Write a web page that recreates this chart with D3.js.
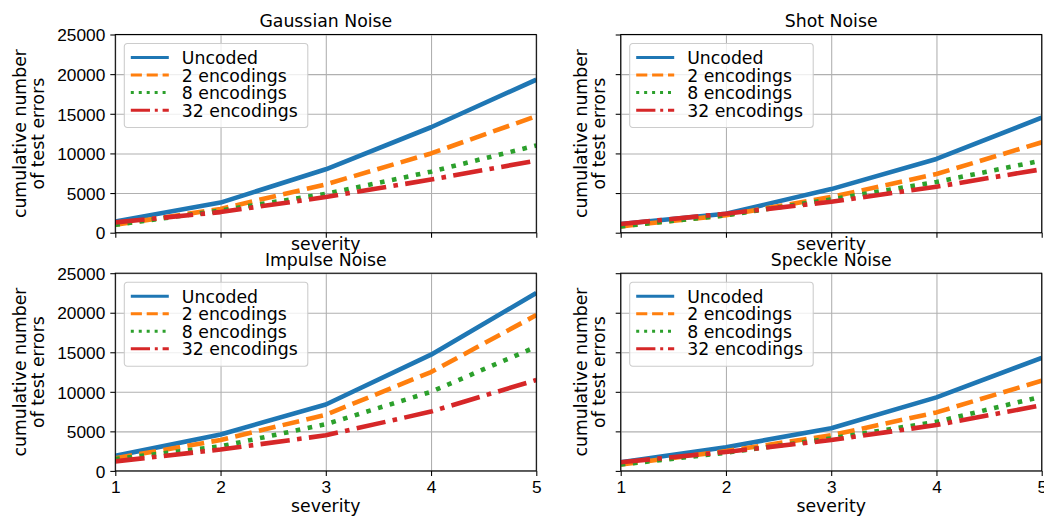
<!DOCTYPE html>
<html>
<head>
<meta charset="utf-8">
<script src="https://cdn.jsdelivr.net/npm/d3@7"></script>
<style>
  body { margin: 0; background: #fff; }
  svg { display: block; font-family: "DejaVu Sans", sans-serif; }
</style>
</head>
<body>
<div id="chart"></div>
<script>
const severities = [1, 2, 3, 4, 5];
const seriesNames = ["Uncoded", "2 encodings", "8 encodings", "32 encodings"];
const panelTitles = ["Gaussian Noise", "Shot Noise", "Impulse Noise", "Speckle Noise"];
const yTicks = [0, 5000, 10000, 15000, 20000, 25000];

// one row per series: Uncoded, 2, 8, 32 encodings
const gaussianNoise = [
  [1400, 3800, 8000, 13300, 19300],
  [1000, 3000, 6100, 10000, 14700],
  [1000, 2800, 4900, 7700, 11000],
  [1300, 2600, 4500, 6700, 9100]
];
const shotNoise = [
  [1100, 2400, 5500, 9300, 14500],
  [800, 2200, 4500, 7400, 11400],
  [800, 2200, 4200, 6400, 9100],
  [1100, 2400, 3900, 5800, 8000]
];
const impulseNoise = [
  [1900, 4600, 8400, 14700, 22500],
  [1600, 3900, 7100, 12500, 19700],
  [1500, 3100, 5900, 10000, 15700],
  [1200, 2700, 4500, 7500, 11500]
];
const speckleNoise = [
  [1100, 3000, 5400, 9300, 14300],
  [800, 2500, 4500, 7400, 11400],
  [800, 2300, 4100, 6200, 9400],
  [1100, 2400, 3900, 5800, 8300]
];
const panelData = [gaussianNoise, shotNoise, impulseNoise, speckleNoise];

const colors = ["#1f77b4", "#ff7f0e", "#2ca02c", "#d62728"];
const lw = 4.6;
const dashFor = (w) => [
  null,
  [3.7 * w, 1.6 * w].join(","),
  [1 * w, 1.65 * w].join(","),
  [6.4 * w, 1.6 * w, 1 * w, 1.6 * w].join(",")
];

const width = 1044, height = 519;
const fs = 17.3;

const svg = d3.select("#chart")
  .append("svg")
  .attr("width", width)
  .attr("height", height);

// Panel geometry (left, right, top, bottom)
const cols = [[115.3, 536.3], [620.7, 1041.7]];
const rows = [[34.5, 232.7], [273.2, 470.9]];

panelData.forEach((series, p) => {
  const r = Math.floor(p / 2), c = p % 2;
  const [x0, x1] = cols[c];
  const [y0, y1] = rows[r];

  const x = d3.scaleLinear().domain([1, 5]).range([x0, x1]);
  const y = d3.scaleLinear().domain([0, 25000]).range([y1, y0]);

  const g = svg.append("g");

  // clip
  const clipId = "clip" + p;
  svg.append("clipPath").attr("id", clipId)
    .append("rect")
    .attr("x", x0).attr("y", y0)
    .attr("width", x1 - x0).attr("height", y1 - y0);

  // Grid lines
  g.append("g")
    .attr("transform", `translate(0,${y1})`)
    .call(d3.axisBottom(x).tickValues(severities).tickSize(-(y1 - y0)).tickFormat(""))
    .call((a) => a.select(".domain").remove())
    .selectAll("line")
    .attr("stroke", "#b0b0b0")
    .attr("stroke-width", 1.07);

  g.append("g")
    .attr("transform", `translate(${x0},0)`)
    .call(d3.axisLeft(y).tickValues(yTicks).tickSize(-(x1 - x0)).tickFormat(""))
    .call((a) => a.select(".domain").remove())
    .selectAll("line")
    .attr("stroke", "#b0b0b0")
    .attr("stroke-width", 1.07);

  // Lines
  const line = d3.line()
    .x((d, i) => x(severities[i]))
    .y((d) => y(d));
  const dashes = dashFor(lw);

  g.append("g")
    .attr("clip-path", `url(#${clipId})`)
    .selectAll("path")
    .data(series)
    .enter()
    .append("path")
    .attr("d", line)
    .attr("fill", "none")
    .attr("stroke", (d, i) => colors[i])
    .attr("stroke-width", lw)
    .attr("stroke-dasharray", (d, i) => dashes[i])
    .attr("stroke-linejoin", "round")
    .attr("stroke-linecap", "butt");

  // Axes
  const xAxis = g.append("g")
    .attr("transform", `translate(0,${y1})`)
    .call(d3.axisBottom(x).tickValues(severities).tickSize(5).tickPadding(5)
      .tickFormat(r === 1 ? d3.format("d") : ""));
  const yAxis = g.append("g")
    .attr("transform", `translate(${x0},0)`)
    .call(d3.axisLeft(y).tickValues(yTicks).tickSize(5).tickPadding(5)
      .tickFormat(c === 0 ? d3.format("d") : ""));
  [xAxis, yAxis].forEach((a) => {
    a.select(".domain").remove();
    a.selectAll("line").attr("stroke", "#000").attr("stroke-width", 1.07);
    a.selectAll("text").attr("fill", "#000").style("font-size", fs + "px");
  });
  yAxis.selectAll("text").attr("dy", "0.36em");

  // Spines
  g.append("rect")
    .attr("x", x0).attr("y", y0)
    .attr("width", x1 - x0).attr("height", y1 - y0)
    .attr("fill", "none")
    .attr("stroke", "#000")
    .attr("stroke-width", 1.07);

  // Title
  g.append("text")
    .attr("x", (x0 + x1) / 2)
    .attr("y", y0 - 7.5)
    .attr("text-anchor", "middle")
    .style("font-size", fs + "px")
    .text(panelTitles[p]);

  // x label
  g.append("text")
    .attr("x", (x0 + x1) / 2)
    .attr("y", r === 0 ? y1 + 17.5 : y1 + 41.5)
    .attr("text-anchor", "middle")
    .style("font-size", fs + "px")
    .text("severity");

  // y label (two lines)
  const lx = c === 0 ? x0 - 89 : x0 - 34;
  const ly = (y0 + y1) / 2;
  const yl = g.append("text")
    .attr("transform", `translate(${lx},${ly}) rotate(-90)`)
    .attr("text-anchor", "middle")
    .style("font-size", fs + "px");
  yl.append("tspan").attr("x", 0).attr("y", 0).text("cumulative number");
  yl.append("tspan").attr("x", 0).attr("y", 18).text("of test errors");

  // Legend
  const lgX = x0 + 9, lgY = y0 + 9;
  const lg = g.append("g").attr("transform", `translate(${lgX},${lgY})`);
  lg.append("rect")
    .attr("width", 183.5).attr("height", 84)
    .attr("rx", 3).attr("ry", 3)
    .attr("fill", "rgba(255,255,255,0.8)")
    .attr("stroke", "#cccccc")
    .attr("stroke-width", 1.07);
  const legW = 3;
  const legDashes = dashFor(legW);
  const item = lg.selectAll(".item")
    .data(seriesNames)
    .enter()
    .append("g")
    .attr("class", "item")
    .attr("transform", (d, i) => `translate(0,${14 + i * 17.55})`);
  item.append("line")
    .attr("x1", 6.5).attr("x2", 44.5)
    .attr("stroke", (d, i) => colors[i])
    .attr("stroke-width", legW)
    .attr("stroke-dasharray", (d, i) => legDashes[i]);
  item.append("text")
    .attr("x", 57.5)
    .attr("y", 6.5)
    .style("font-size", fs + "px")
    .text((d) => d);
});
</script>
</body>
</html>
